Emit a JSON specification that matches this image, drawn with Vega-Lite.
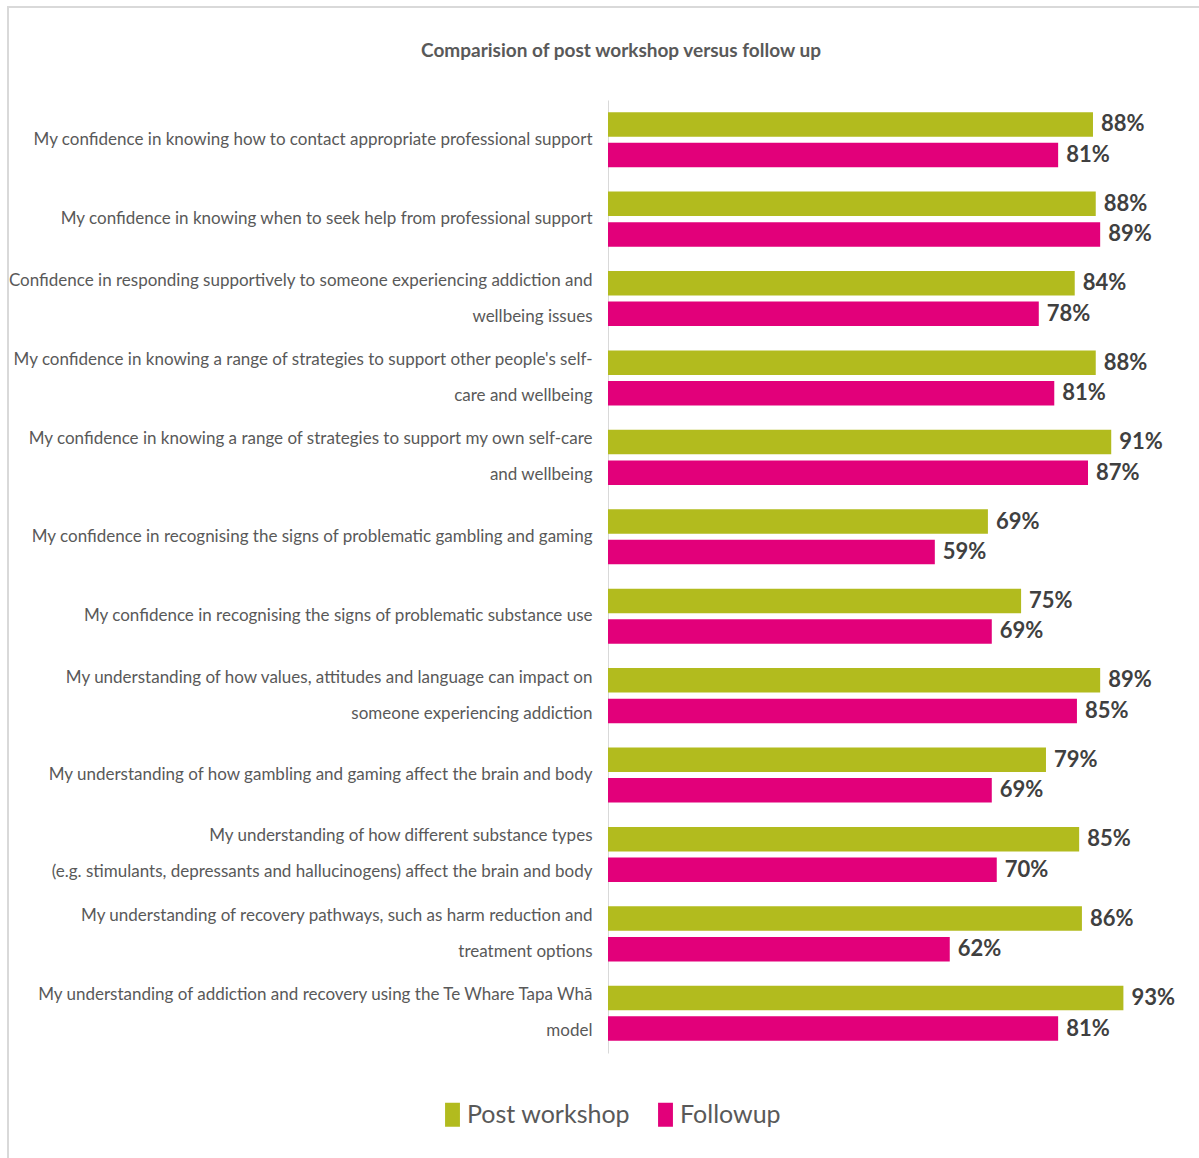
{
  "$schema": "https://vega.github.io/schema/vega-lite/v6.json",
  "autosize": "none",
  "padding": {"left": 8, "top": 7, "right": 0, "bottom": 0},
  "width": 1200,
  "height": 1160,
  "background": "white",
  "title": {
    "text": "Comparision of post workshop versus follow up",
    "font": "Lato",
    "fontSize": 19,
    "fontWeight": "bold",
    "color": "#595959",
    "anchor": "middle",
    "frame": "group",
    "orient": "top",
    "baseline": "middle",
    "offset": -63,
    "dx": 13
  },
  "config": {
    "view": {"stroke": "#d9d9d9", "strokeWidth": 2, "fill": "white"}
  },
  "data": {
    "values": [
      {"item": "My confidence in knowing how to contact appropriate professional support", "series": "Post workshop", "value": 0.877},
      {"item": "My confidence in knowing how to contact appropriate professional support", "series": "Followup", "value": 0.814},
      {"item": "My confidence in knowing when to seek help from professional support", "series": "Post workshop", "value": 0.882},
      {"item": "My confidence in knowing when to seek help from professional support", "series": "Followup", "value": 0.890},
      {"item": "Confidence in responding supportively to someone experiencing addiction and|wellbeing issues", "series": "Post workshop", "value": 0.844},
      {"item": "Confidence in responding supportively to someone experiencing addiction and|wellbeing issues", "series": "Followup", "value": 0.779},
      {"item": "My confidence in knowing a range of strategies to support other people's self-|care and wellbeing", "series": "Post workshop", "value": 0.882},
      {"item": "My confidence in knowing a range of strategies to support other people's self-|care and wellbeing", "series": "Followup", "value": 0.807},
      {"item": "My confidence in knowing a range of strategies to support my own self-care|and wellbeing", "series": "Post workshop", "value": 0.910},
      {"item": "My confidence in knowing a range of strategies to support my own self-care|and wellbeing", "series": "Followup", "value": 0.868},
      {"item": "My confidence in recognising the signs of problematic gambling and gaming", "series": "Post workshop", "value": 0.687},
      {"item": "My confidence in recognising the signs of problematic gambling and gaming", "series": "Followup", "value": 0.591},
      {"item": "My confidence in recognising the signs of problematic substance use", "series": "Post workshop", "value": 0.747},
      {"item": "My confidence in recognising the signs of problematic substance use", "series": "Followup", "value": 0.694},
      {"item": "My understanding of how values, attitudes and language can impact on|someone experiencing addiction", "series": "Post workshop", "value": 0.890},
      {"item": "My understanding of how values, attitudes and language can impact on|someone experiencing addiction", "series": "Followup", "value": 0.848},
      {"item": "My understanding of how gambling and gaming affect the brain and body", "series": "Post workshop", "value": 0.792},
      {"item": "My understanding of how gambling and gaming affect the brain and body", "series": "Followup", "value": 0.694},
      {"item": "My understanding of how different substance types|(e.g. stimulants, depressants and hallucinogens) affect the brain and body", "series": "Post workshop", "value": 0.852},
      {"item": "My understanding of how different substance types|(e.g. stimulants, depressants and hallucinogens) affect the brain and body", "series": "Followup", "value": 0.703},
      {"item": "My understanding of recovery pathways, such as harm reduction and|treatment options", "series": "Post workshop", "value": 0.857},
      {"item": "My understanding of recovery pathways, such as harm reduction and|treatment options", "series": "Followup", "value": 0.618},
      {"item": "My understanding of addiction and recovery using the Te Whare Tapa Whā|model", "series": "Post workshop", "value": 0.932},
      {"item": "My understanding of addiction and recovery using the Te Whare Tapa Whā|model", "series": "Followup", "value": 0.814}
    ]
  },
  "encoding": {
    "y": {
      "field": "item",
      "type": "nominal",
      "sort": null,
      "scale": {"range": [93, 1046], "paddingInner": 0.307, "paddingOuter": 0.1535},
      "axis": {
        "title": null,
        "orient": "left",
        "offset": -600,
        "ticks": false,
        "domainColor": "#d9d9d9",
        "domainWidth": 1,
        "labelPadding": 16,
        "labelFont": "Lato",
        "labelFontSize": 17,
        "labelColor": "#595959",
        "labelLimit": 0,
        "labelOverlap": false,
        "labelLineHeight": 36,
        "labelOffset": {"condition": {"test": "indexof(datum.value, '|') >= 0", "value": -18}, "value": 0},
        "labelExpr": "split(datum.value, '|')"
      }
    },
    "yOffset": {
      "field": "series",
      "type": "nominal",
      "sort": ["Post workshop", "Followup"],
      "scale": {"paddingInner": 0.2, "paddingOuter": 0}
    },
    "x": {
      "field": "value",
      "type": "quantitative",
      "scale": {"domain": [0, 1], "range": [600, 1153]},
      "axis": null
    }
  },
  "layer": [
    {
      "mark": {"type": "bar"},
      "encoding": {
        "color": {
          "field": "series",
          "type": "nominal",
          "sort": ["Post workshop", "Followup"],
          "scale": {"domain": ["Post workshop", "Followup"], "range": ["#b2bb1e", "#e2007a"]},
          "legend": {
            "title": null,
            "orient": "none",
            "direction": "horizontal",
            "legendX": 432,
            "legendY": 1095,
            "labelFont": "Lato",
            "labelFontSize": 25,
            "labelColor": "#595959",
            "labelLimit": 0,
            "labelOffset": 2,
            "columnPadding": 22,
            "symbolType": "M-0.62,-1H0.62V1H-0.62Z",
            "symbolSize": 576,
            "symbolStrokeWidth": 0
          }
        }
      }
    },
    {
      "mark": {
        "type": "text",
        "align": "left",
        "baseline": "middle",
        "dx": 8,
        "font": "Lato",
        "fontSize": 22,
        "fontWeight": "bold",
        "color": "#404040"
      },
      "encoding": {
        "text": {"field": "value", "type": "quantitative", "format": ".0%"}
      }
    }
  ]
}
